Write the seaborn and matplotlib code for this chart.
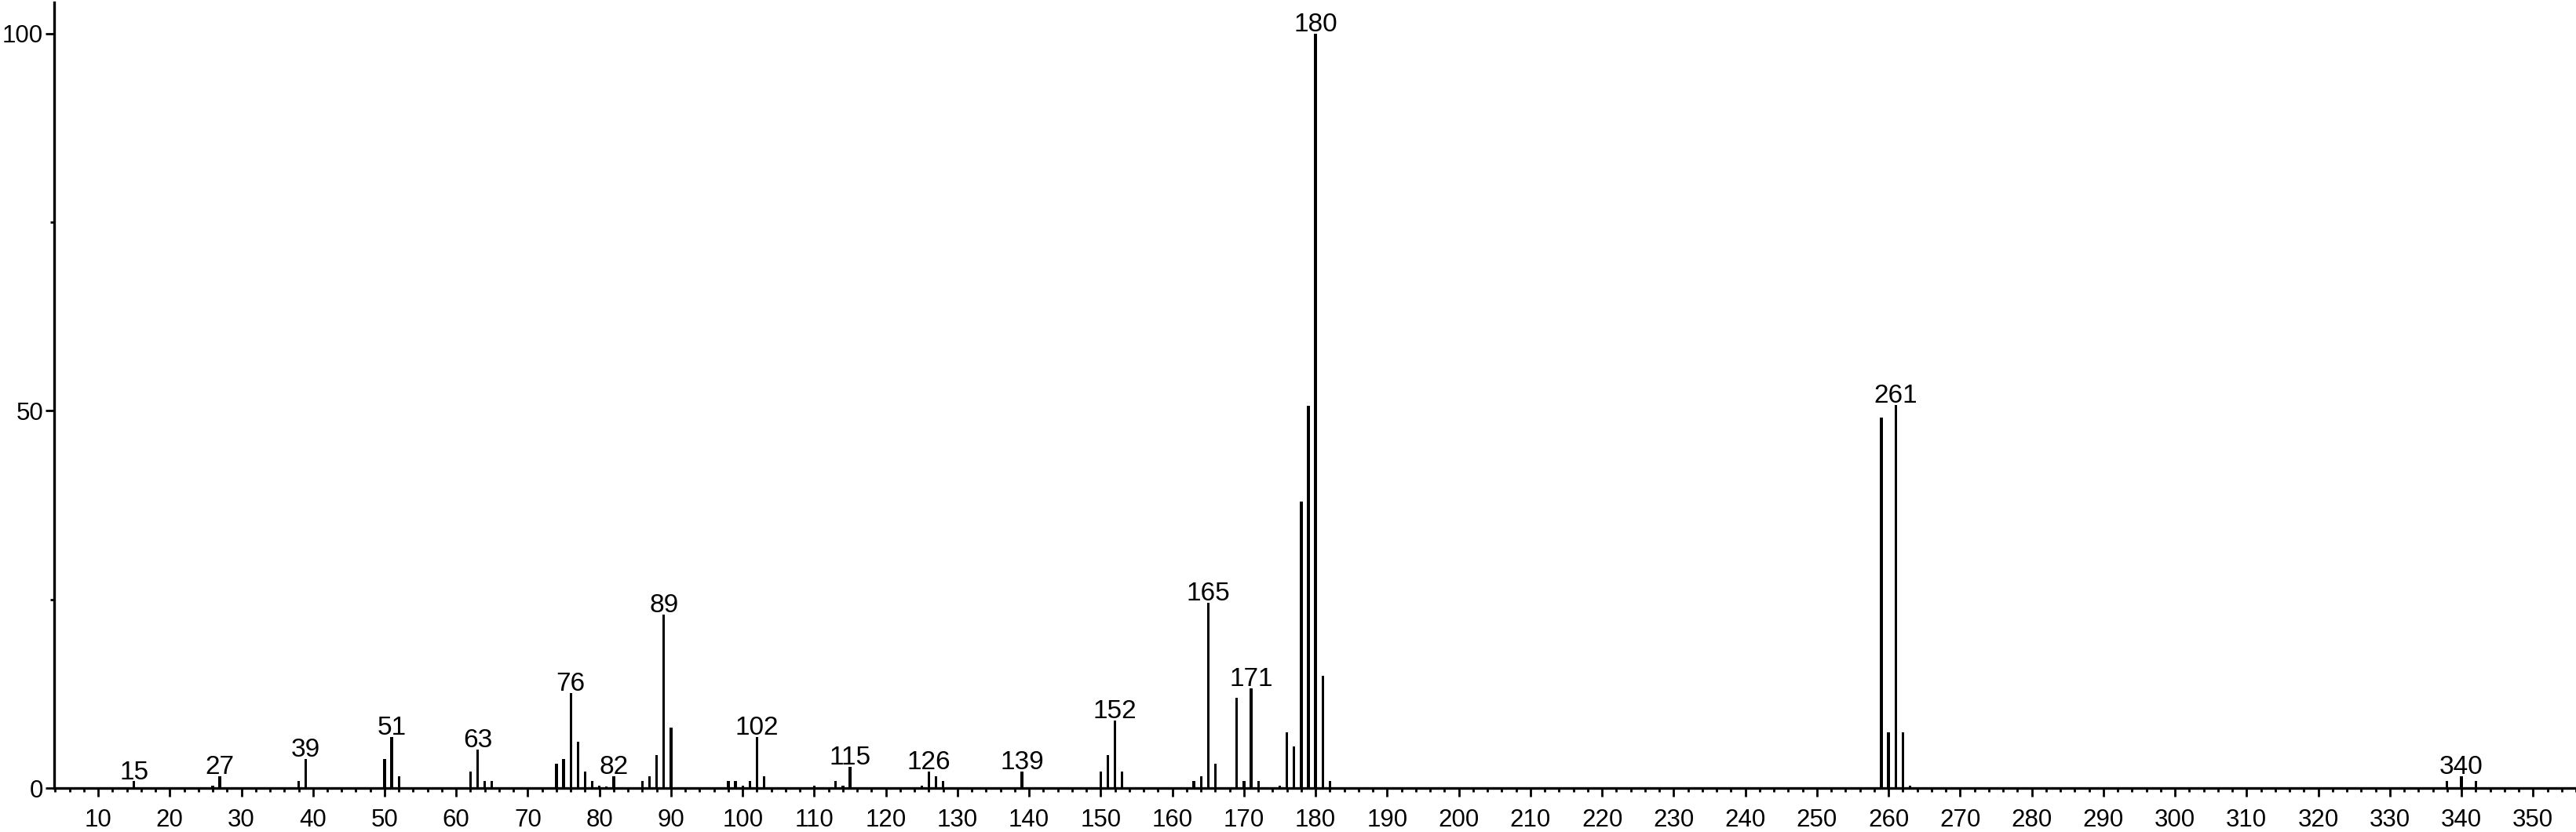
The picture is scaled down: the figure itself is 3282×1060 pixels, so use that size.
import matplotlib
matplotlib.use("Agg")
import matplotlib.pyplot as plt
from matplotlib.ticker import MultipleLocator, FixedLocator
import pandas as pd
import seaborn as sns

# m/z values and relative intensities
mz = [15, 26, 27, 38, 39, 50, 51, 52, 62, 63, 64, 65,
      74, 75, 76, 77, 78, 79, 80, 81, 82, 86, 87, 88, 89, 90,
      98, 99, 100, 101, 102, 103, 110, 113, 114, 115,
      125, 126, 127, 128, 139, 150, 151, 152, 153,
      163, 164, 165, 166, 169, 170, 171, 172,
      175, 176, 177, 178, 179, 180, 181, 182,
      259, 260, 261, 262, 263, 338, 340, 342]
intensity = [0.9, 0.3, 1.6, 0.9, 3.85, 3.85, 6.8, 1.6, 2.2, 5.1, 0.9, 0.9,
             3.2, 3.85, 12.6, 6.1, 2.2, 0.9, 0.3, 0.2, 1.6, 0.9, 1.6, 4.4, 23.0, 8.05,
             0.9, 0.9, 0.3, 0.9, 6.8, 1.6, 0.3, 0.9, 0.3, 2.85,
             0.3, 2.2, 1.6, 0.9, 2.2, 2.2, 4.4, 9.0, 2.2,
             0.9, 1.6, 24.6, 3.2, 12.0, 0.9, 13.2, 0.9,
             0.3, 7.4, 5.5, 38.0, 50.7, 100.0, 14.85, 0.9,
             49.1, 7.35, 50.8, 7.35, 0.3, 0.9, 1.6, 0.9]

# peaks that carry an m/z label
labeled = [15, 27, 39, 51, 63, 76, 82, 89, 102, 115, 126, 139, 152,
           165, 171, 180, 261, 340]

x_major = list(range(10, 351, 10))
y_major = [0, 50, 100]
y_minor = [25, 75]

sns.set_theme(style="ticks")
plt.rcParams["font.family"] = ["Liberation Sans", "DejaVu Sans"]

df = pd.DataFrame({"mz": mz, "intensity": intensity})

W, H = 3282, 1060
fig = plt.figure(figsize=(W / 100, H / 100), dpi=100)
ax = fig.add_axes([69 / W, 56 / H, (W - 69) / W, (1004 - 3) / H])

sns.barplot(data=df, x="mz", y="intensity", native_scale=True, width=0.36,
            color="black", saturation=1, errorbar=None, linewidth=0, ax=ax)

for m, v in zip(mz, intensity):
    if m in labeled:
        ax.annotate(str(m), xy=(m, v), xytext=(0, 2), textcoords="offset points",
                    ha="center", va="baseline", fontsize=24, color="black")

ax.set_xlim(3.86, 356)
ax.set_ylim(0, 104.16)
ax.xaxis.set_major_locator(FixedLocator(x_major))
ax.xaxis.set_minor_locator(MultipleLocator(2))
ax.yaxis.set_major_locator(FixedLocator(y_major))
ax.yaxis.set_minor_locator(FixedLocator(y_minor))
ax.set_xlabel("")
ax.set_ylabel("")

sns.despine(ax=ax)
for side in ["left", "bottom"]:
    ax.spines[side].set_linewidth(2.4)
    ax.spines[side].set_color("black")

ax.tick_params(axis="both", which="major", direction="out", length=8, width=2.0,
               color="black", labelsize=22.5, labelcolor="black")
ax.tick_params(axis="both", which="minor", direction="out", length=3.5, width=2.0,
               color="black")
ax.tick_params(axis="x", which="major", pad=11)
ax.tick_params(axis="y", which="major", pad=2)

fig.savefig("out.png", dpi=100)
